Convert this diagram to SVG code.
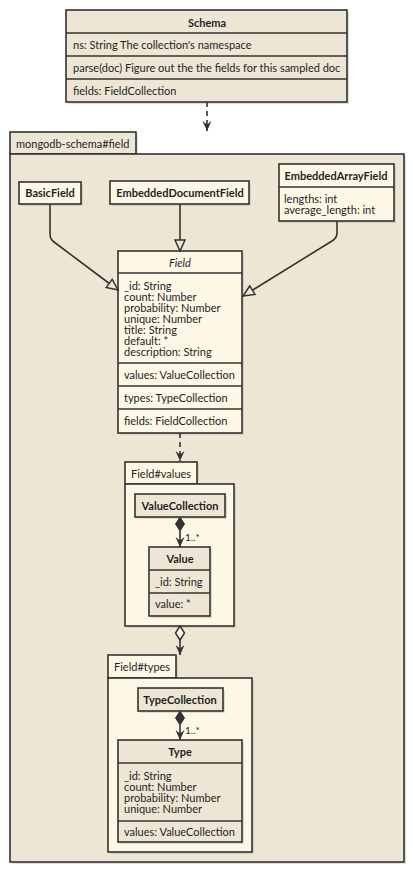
<svg xmlns="http://www.w3.org/2000/svg" width="413" height="871" viewBox="0 0 413 871">
  <style>
    .t { font-family: Lato, "Liberation Sans", sans-serif; font-size: 11px; fill: #1f1f1f; }
    .h { font-weight: bold; text-anchor: middle; }
    .i { font-style: italic; text-anchor: middle; }
    .m { font-size: 10px; }
    .dark { fill: #ede6d4; stroke: #333333; stroke-width: 1.6; }
    .light { fill: #fdf7e6; stroke: #333333; stroke-width: 1.6; }
    .sep { stroke: #333333; stroke-width: 1.6; }
    .shadow { fill: #b9b5ab; opacity: 0.45; }
    .line { fill: none; stroke: #333333; stroke-width: 1.6; }
    .dash { stroke-dasharray: 5 4; }
  </style>
  <defs>
    <marker id="gen" viewBox="0 0 12 12" refX="12" refY="6" markerWidth="12" markerHeight="12" markerUnits="userSpaceOnUse" orient="auto" overflow="visible">
      <path d="M12,6 L1,1 L1,11 Z" fill="#ede6d4" stroke="#333333" stroke-width="1.5"/>
    </marker>
    <marker id="arr" viewBox="0 0 10 9" refX="10" refY="4.5" markerWidth="10" markerHeight="9" markerUnits="userSpaceOnUse" orient="auto" overflow="visible">
      <path d="M10,4.5 L0,0 L3.5,4.5 L0,9 Z" fill="#333333"/>
    </marker>
  </defs>

  <!-- Schema class -->
  <g id="Schema">
    <rect class="shadow" x="68" y="12" width="281" height="92"/>
    <rect class="dark" x="66" y="10" width="281" height="92"/>
    <line class="sep" x1="66" y1="33" x2="347" y2="33"/>
    <line class="sep" x1="66" y1="56" x2="347" y2="56"/>
    <line class="sep" x1="66" y1="79" x2="347" y2="79"/>
    <text class="t h" x="207" y="27">Schema</text>
    <text class="t" x="73" y="49">ns: String The collection's namespace</text>
    <text class="t" x="73" y="72">parse(doc) Figure out the the fields for this sampled doc</text>
    <text class="t" x="73" y="95">fields: FieldCollection</text>
  </g>

  <!-- package mongodb-schema#field -->
  <g id="pkg-field">
    <path class="shadow" d="M12,134 H138 V156 H406 V864 H12 Z"/>
    <rect class="dark" x="10" y="132" width="126" height="22"/>
    <rect class="dark" x="10" y="154" width="394" height="708"/>
    <text class="t" x="16" y="148">mongodb-schema#field</text>
  </g>

  <g id="BasicField">
    <rect class="shadow" x="21" y="184" width="62" height="22"/>
    <rect class="light" x="19" y="182" width="62" height="22"/>
    <text class="t h" x="50" y="197">BasicField</text>
  </g>

  <g id="EmbeddedDocumentField">
    <rect class="shadow" x="112" y="183" width="139" height="23"/>
    <rect class="light" x="110" y="181" width="139" height="23"/>
    <text class="t h" x="180" y="197">EmbeddedDocumentField</text>
  </g>

  <g id="EmbeddedArrayField">
    <rect class="shadow" x="281" y="166" width="115" height="57"/>
    <rect class="light" x="279" y="164" width="115" height="57"/>
    <line class="sep" x1="279" y1="187" x2="394" y2="187"/>
    <text class="t h" x="336" y="180">EmbeddedArrayField</text>
    <text class="t" x="284" y="203">lengths: int</text>
    <text class="t" x="284" y="214">average_length: int</text>
  </g>

  <g id="Field">
    <rect class="shadow" x="120" y="253" width="124" height="182"/>
    <rect class="light" x="118" y="251" width="124" height="182"/>
    <line class="sep" x1="118" y1="273" x2="242" y2="273"/>
    <line class="sep" x1="118" y1="363" x2="242" y2="363"/>
    <line class="sep" x1="118" y1="386" x2="242" y2="386"/>
    <line class="sep" x1="118" y1="409" x2="242" y2="409"/>
    <text class="t i" x="180" y="267">Field</text>
    <text class="t" x="124" y="290">_id: String</text>
    <text class="t" x="124" y="301">count: Number</text>
    <text class="t" x="124" y="312">probability: Number</text>
    <text class="t" x="124" y="323">unique: Number</text>
    <text class="t" x="124" y="334">title: String</text>
    <text class="t" x="124" y="345">default: *</text>
    <text class="t" x="124" y="356">description: String</text>
    <text class="t" x="124" y="379">values: ValueCollection</text>
    <text class="t" x="124" y="402">types: TypeCollection</text>
    <text class="t" x="124" y="425">fields: FieldCollection</text>
  </g>

  <!-- package Field#values -->
  <g id="pkg-values">
    <path class="shadow" d="M127,464 H199 V486 H236 V628 H127 Z"/>
    <rect class="light" x="125" y="462" width="72" height="22"/>
    <rect class="light" x="125" y="484" width="109" height="142"/>
    <text class="t" x="131" y="478">Field#values</text>
  </g>

  <g id="ValueCollection">
    <rect class="shadow" x="137" y="496" width="90" height="23"/>
    <rect class="dark" x="135" y="494" width="90" height="23"/>
    <text class="t h" x="180" y="510">ValueCollection</text>
  </g>

  <g id="Value">
    <rect class="shadow" x="151" y="549" width="61" height="69"/>
    <rect class="dark" x="149" y="547" width="61" height="69"/>
    <line class="sep" x1="149" y1="570" x2="210" y2="570"/>
    <line class="sep" x1="149" y1="593" x2="210" y2="593"/>
    <text class="t h" x="180" y="563">Value</text>
    <text class="t" x="155" y="586">_id: String</text>
    <text class="t" x="155" y="608">value: *</text>
  </g>

  <!-- package Field#types -->
  <g id="pkg-types">
    <path class="shadow" d="M110,657 H178 V680 H254 V854 H110 Z"/>
    <rect class="light" x="108" y="655" width="68" height="23"/>
    <rect class="light" x="108" y="678" width="144" height="174"/>
    <text class="t" x="114" y="671">Field#types</text>
  </g>

  <g id="TypeCollection">
    <rect class="shadow" x="140" y="690" width="85" height="23"/>
    <rect class="dark" x="138" y="688" width="85" height="23"/>
    <text class="t h" x="180" y="704">TypeCollection</text>
  </g>

  <g id="Type">
    <rect class="shadow" x="120" y="742" width="124" height="102"/>
    <rect class="dark" x="118" y="740" width="124" height="102"/>
    <line class="sep" x1="118" y1="763" x2="242" y2="763"/>
    <line class="sep" x1="118" y1="821" x2="242" y2="821"/>
    <text class="t h" x="180" y="756">Type</text>
    <text class="t" x="124" y="780">_id: String</text>
    <text class="t" x="124" y="791">count: Number</text>
    <text class="t" x="124" y="802">probability: Number</text>
    <text class="t" x="124" y="813">unique: Number</text>
    <text class="t" x="124" y="836">values: ValueCollection</text>
  </g>

  <!-- connectors -->
  <g id="connectors">
    <path class="line dash" d="M207,102 L207,131" marker-end="url(#arr)"/>
    <path class="line" d="M50,204 L50,234 Q50,239 54,242 L118,290" marker-end="url(#gen)"/>
    <path class="line" d="M180,204 L180,251" marker-end="url(#gen)"/>
    <path class="line" d="M337,221 L337,233 Q337,238 332,241 L243,296" marker-end="url(#gen)"/>
    <path class="line dash" d="M180,433 L180,461" marker-end="url(#arr)"/>

    <path class="line" d="M180,531 L180,547" marker-end="url(#arr)"/>
    <polygon points="180,517 184.5,524 180,531 175.5,524" fill="#333333" stroke="#333333" stroke-width="1"/>
    <text class="t m" x="185" y="541">1..*</text>

    <path class="line" d="M180,640 L180,655" marker-end="url(#arr)"/>
    <polygon points="180,626 184.5,633 180,640 175.5,633" fill="#fdf7e6" stroke="#333333" stroke-width="1.5"/>

    <path class="line" d="M180,725 L180,740" marker-end="url(#arr)"/>
    <polygon points="180,711 184.5,718 180,725 175.5,718" fill="#333333" stroke="#333333" stroke-width="1"/>
    <text class="t m" x="185" y="734">1..*</text>
  </g>
</svg>
